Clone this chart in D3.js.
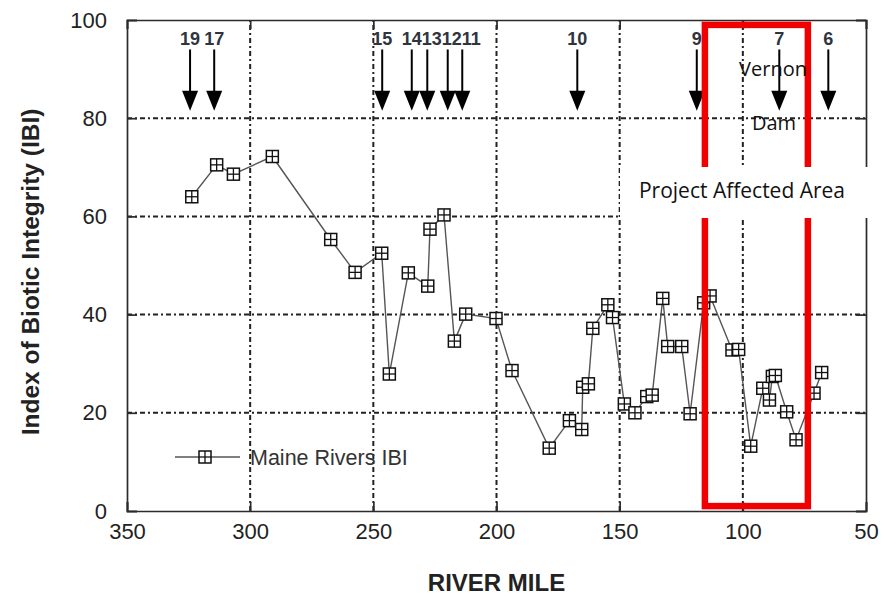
<!DOCTYPE html>
<html>
<head>
<meta charset="utf-8">
<script src="https://cdn.jsdelivr.net/npm/d3@7"></script>
<style>
  html, body { margin: 0; padding: 0; background: #fff; }
  svg { display: block; font-family: "Liberation Sans", Arial, sans-serif; }
</style>
</head>
<body>
<svg id="chart" width="886" height="597"></svg>
<script>
// ---- data ----
const riverMile = [323.7, 313.6, 306.8, 291.0, 267.3, 257.4, 246.6, 243.5, 235.8, 227.9,
  227.0, 221.3, 217.1, 212.5, 200.2, 193.7, 178.6, 170.4, 165.4, 165.0,
  162.7, 160.9, 154.8, 152.9, 148.1, 143.8, 139.0, 136.8, 132.5, 130.5,
  124.8, 121.4, 115.9, 113.3, 104.4, 101.7, 96.8, 91.9, 89.2, 88.0,
  86.8, 82.2, 78.4, 71.1, 68.0];
const ibiValue = [64.0, 70.5, 68.6, 72.2, 55.3, 48.6, 52.5, 27.9, 48.5, 45.8,
  57.4, 60.3, 34.6, 40.1, 39.2, 28.6, 12.8, 18.4, 16.6, 25.2,
  25.9, 37.2, 42.0, 39.4, 21.8, 20.0, 23.3, 23.6, 43.3, 33.5,
  33.5, 19.8, 42.4, 43.8, 32.8, 32.9, 13.2, 25.0, 22.6, 27.4,
  27.6, 20.2, 14.5, 24.0, 28.2];
const stationLabels = ["19", "17", "15", "14", "13", "12", "11", "10", "9", "7", "6"];
const stationMiles = [324.4, 314.6, 246.4, 234.4, 228.1, 219.8, 213.9, 167.2, 118.7, 85.2, 65.3];
const xTicks = [350, 300, 250, 200, 150, 100, 50];
const yTicks = [0, 20, 40, 60, 80, 100];
const affectedMiles = [115.4, 73.6];
const affectedIbi = [99, 1];
const seriesName = "Maine Rivers IBI";

// ---- layout ----
const svg = d3.select("#chart");
const x = d3.scaleLinear().domain([350, 50]).range([127, 866]);
const y = d3.scaleLinear().domain([0, 100]).range([511, 20]);
const frameColor = "#2b2b2b";

// grid
const grid = svg.append("g");
const dash = "5,3,2,3";
grid.selectAll("line.v").data(xTicks.filter(d => d !== 350 && d !== 50)).join("line")
  .attr("x1", d => x(d)).attr("x2", d => x(d)).attr("y1", y(0)).attr("y2", y(100))
  .attr("stroke", "#222").attr("stroke-width", 2).attr("stroke-dasharray", dash);
grid.selectAll("line.h").data(yTicks.filter(d => d !== 0 && d !== 100)).join("line")
  .attr("y1", d => y(d)).attr("y2", d => y(d)).attr("x1", x(350)).attr("x2", x(50))
  .attr("stroke", "#222").attr("stroke-width", 2).attr("stroke-dasharray", dash);

// axes (frame with inward ticks)
const tickFont = 22;
const axL = svg.append("g").attr("transform", `translate(${x(350)},0)`)
  .call(d3.axisLeft(y).tickValues(yTicks).tickSize(-10).tickPadding(20));
const axR = svg.append("g").attr("transform", `translate(${x(50)},0)`)
  .call(d3.axisRight(y).tickValues(yTicks).tickSize(-10).tickFormat(""));
const axB = svg.append("g").attr("transform", `translate(0,${y(0)})`)
  .call(d3.axisBottom(x).tickValues(xTicks).tickSize(-9).tickPadding(15));
const axT = svg.append("g").attr("transform", `translate(0,${y(100)})`)
  .call(d3.axisTop(x).tickValues(xTicks).tickSize(-9).tickFormat(""));
[axL, axR, axB, axT].forEach(g => {
  g.select(".domain").attr("stroke", frameColor).attr("stroke-width", 1.7);
  g.selectAll(".tick line").attr("stroke", frameColor).attr("stroke-width", 1.7);
  g.selectAll(".tick text").attr("fill", "#222").attr("font-size", tickFont)
    .attr("font-family", "'Liberation Sans', Arial, sans-serif");
});
axB.selectAll(".tick text").attr("dy", "0.6em");

// axis titles
svg.append("text").attr("x", x(200)).attr("y", 591).attr("text-anchor", "middle")
  .attr("font-size", 24).attr("font-weight", "bold").attr("fill", "#222").text("RIVER MILE");
svg.append("text").attr("transform", "translate(39,272) rotate(-90)").attr("text-anchor", "middle")
  .attr("font-size", 24.5).attr("font-weight", "bold").attr("fill", "#222")
  .text("Index of Biotic Integrity (IBI)");

// data line and markers
const pts = riverMile.map((m, i) => [m, ibiValue[i]]);
svg.append("path").datum(pts)
  .attr("d", d3.line().x(d => x(d[0])).y(d => y(d[1])))
  .attr("fill", "none").attr("stroke", "#555").attr("stroke-width", 1.4);

function marker(g, cx, cy) {
  const s = 12;
  const m = g.append("g").attr("transform", `translate(${cx},${cy})`);
  m.append("rect").attr("x", -s / 2).attr("y", -s / 2).attr("width", s).attr("height", s)
    .attr("fill", "#fff").attr("stroke", "#111").attr("stroke-width", 1.5);
  m.append("line").attr("x1", -s / 2).attr("x2", s / 2).attr("y1", 0).attr("y2", 0)
    .attr("stroke", "#111").attr("stroke-width", 1.3);
  m.append("line").attr("y1", -s / 2).attr("y2", s / 2).attr("x1", 0).attr("x2", 0)
    .attr("stroke", "#111").attr("stroke-width", 1.3);
}
const mg = svg.append("g");
pts.forEach(d => marker(mg, x(d[0]), y(d[1])));

// station arrows
const ag = svg.append("g");
const tailY = y(94), tipY = y(81.5), headLen = 20, headHalf = 8;
stationMiles.forEach(m => {
  const ax = x(m);
  ag.append("line").attr("x1", ax).attr("x2", ax).attr("y1", tailY).attr("y2", tipY - headLen + 2)
    .attr("stroke", "#000").attr("stroke-width", 2);
  ag.append("path")
    .attr("d", `M${ax - headHalf},${tipY - headLen} L${ax + headHalf},${tipY - headLen} L${ax},${tipY} Z`)
    .attr("fill", "#000");
});
// labels, de-overlapped left to right
const labels = ag.selectAll("text.st").data(stationLabels).join("text")
  .attr("class", "st").attr("y", tailY - 4).attr("font-size", 18).attr("font-weight", "bold")
  .attr("fill", "#2e3440").text(d => d);
let prevRight = -Infinity;
labels.each(function (d, i) {
  const w = this.getComputedTextLength();
  let left = x(stationMiles[i]) - w / 2;
  if (left < prevRight) left = prevRight;
  d3.select(this).attr("x", left);
  prevRight = left + w;
});

// legend
const lg = svg.append("g");
lg.append("line").attr("x1", 175).attr("x2", 240).attr("y1", 457).attr("y2", 457)
  .attr("stroke", "#555").attr("stroke-width", 1.4);
marker(lg, 205, 457);
lg.append("text").attr("x", 250).attr("y", 465).attr("font-size", 21.5).attr("fill", "#333").text(seriesName);

// project affected area
svg.append("rect")
  .attr("x", x(affectedMiles[0])).attr("y", y(affectedIbi[0]))
  .attr("width", x(affectedMiles[1]) - x(affectedMiles[0]))
  .attr("height", y(affectedIbi[1]) - y(affectedIbi[0]))
  .attr("fill", "none").attr("stroke", "#f00000").attr("stroke-width", 6.5);

svg.append("rect").attr("x", 620).attr("y", 167).attr("width", 266).attr("height", 51).attr("fill", "#fff");
const annFont = "'Open Sans', 'Noto Sans', sans-serif";
svg.append("text").attr("x", 742).attr("y", 198).attr("text-anchor", "middle")
  .attr("font-family", annFont).attr("font-size", 21).attr("fill", "#111").text("Project Affected Area");
svg.append("text").attr("x", 773).attr("y", 76).attr("text-anchor", "middle")
  .attr("font-family", annFont).attr("font-size", 20).attr("fill", "#111").text("Vernon");
svg.append("text").attr("x", 774).attr("y", 130).attr("text-anchor", "middle")
  .attr("font-family", annFont).attr("font-size", 20).attr("fill", "#111").text("Dam");
</script>
</body>
</html>
